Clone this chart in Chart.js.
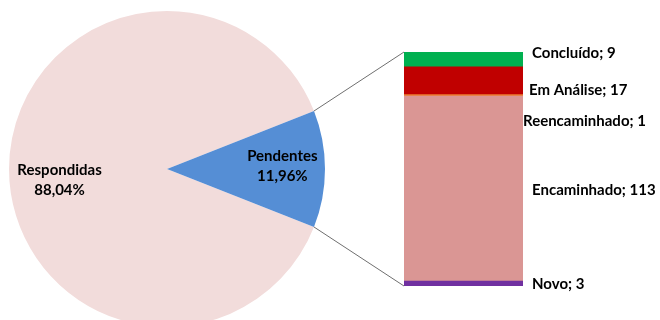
<!DOCTYPE html>
<html>
<head>
<meta charset="utf-8">
<script src="https://cdn.jsdelivr.net/npm/chart.js@4.4.1/dist/chart.umd.min.js"></script>
<style>
  html, body { margin: 0; padding: 0; background: #fff; overflow: hidden; width: 660px; height: 320px; }
  #pieChart { position: absolute; left: 0; top: 0; }
  #barChart { position: absolute; left: 0; top: 0; }
</style>
</head>
<body>
<canvas id="pieChart" width="334" height="338"></canvas>
<canvas id="barChart" width="660" height="320"></canvas>
<script>
// Pie: share of requests (percent)
const pieLabels = ['Respondidas', 'Pendentes'];
const pieValues = [88.04, 11.96];
const pieColors = ['#f2dcdb', '#558ed5'];

// Bar: breakdown of "Pendentes", bottom to top
const barLabels = ['Novo', 'Encaminhado', 'Reencaminhado', 'Em Análise', 'Concluído'];
const barValues = [3, 113, 1, 17, 9];
const barColors = ['#7030a0', '#da9694', '#ed7d31', '#c00000', '#00b050'];

const labelFont = 'bold 15px Lato';

// pie slice labels: "Name" + "xx,xx%"
const pieLabelPlugin = {
  id: 'pieLabels',
  afterDatasetsDraw(chart, args, opts) {
    const ctx = chart.ctx;
    const meta = chart.getDatasetMeta(0);
    ctx.save();
    ctx.font = labelFont;
    ctx.fillStyle = '#000';
    ctx.textAlign = 'center';
    ctx.textBaseline = 'middle';
    meta.data.forEach((arc, i) => {
      const mid = (arc.startAngle + arc.endAngle) / 2;
      const r = arc.outerRadius * opts.ratio[i];
      const x = arc.x + Math.cos(mid) * r;
      const y = arc.y + Math.sin(mid) * r + opts.dy[i];
      ctx.fillText(pieLabels[i], x, y - 10);
      ctx.fillText(pieValues[i].toFixed(2).replace('.', ',') + '%', x, y + 10);
    });
    ctx.restore();
  }
};

const pieChart = new Chart(document.getElementById('pieChart'), {
  type: 'pie',
  data: {
    labels: pieLabels,
    datasets: [{ data: pieValues, backgroundColor: pieColors, borderWidth: 0 }]
  },
  options: {
    responsive: false,
    animation: false,
    events: [],
    radius: 158,
    rotation: 90 + pieValues[1] * 3.6 / 2,
    plugins: {
      legend: { display: false },
      tooltip: { enabled: false },
      pieLabels: { ratio: [0.68, 0.73], dy: [11, -3] }
    }
  },
  plugins: [pieLabelPlugin]
});

// connector lines from the Pendentes slice to the bar + bar labels
const barExtras = {
  id: 'barExtras',
  afterDatasetsDraw(chart, args, opts) {
    const ctx = chart.ctx;
    const first = chart.getDatasetMeta(0).data[0];
    const last = chart.getDatasetMeta(barValues.length - 1).data[0];
    const left = first.x - first.width / 2;
    const right = first.x + first.width / 2;

    const slice = pieChart.getDatasetMeta(0).data[1];
    ctx.save();
    ctx.strokeStyle = '#6f6f6f';
    ctx.lineWidth = 1;
    ctx.beginPath();
    ctx.moveTo(slice.x + Math.cos(slice.startAngle) * slice.outerRadius, slice.y + Math.sin(slice.startAngle) * slice.outerRadius);
    ctx.lineTo(left, last.y);
    ctx.moveTo(slice.x + Math.cos(slice.endAngle) * slice.outerRadius, slice.y + Math.sin(slice.endAngle) * slice.outerRadius);
    ctx.lineTo(left, first.base);
    ctx.stroke();

    ctx.font = labelFont;
    ctx.fillStyle = '#000';
    ctx.textAlign = 'left';
    ctx.textBaseline = 'middle';
    barLabels.forEach((name, i) => {
      const el = chart.getDatasetMeta(i).data[0];
      const y = (el.y + el.base) / 2 + opts.dy[i];
      ctx.fillText(name + '; ' + barValues[i], right + 9 + opts.dx[i], y);
    });
    ctx.restore();
  }
};

new Chart(document.getElementById('barChart'), {
  type: 'bar',
  data: {
    labels: ['Pendentes'],
    datasets: barLabels.map((name, i) => ({
      label: name,
      data: [barValues[i]],
      backgroundColor: barColors[i],
      borderWidth: 0,
      barPercentage: 1,
      categoryPercentage: 1
    }))
  },
  options: {
    responsive: false,
    animation: false,
    events: [],
    layout: { padding: { left: 404, right: 137, top: 52, bottom: 34 } },
    scales: {
      x: { stacked: true, display: false },
      y: { stacked: true, display: false, min: 0, max: barValues.reduce((a, b) => a + b, 0) }
    },
    plugins: {
      legend: { display: false },
      tooltip: { enabled: false },
      barExtras: { dx: [0, 0, -9, -3, 0], dy: [1, 2, 26, 10, -6] }
    }
  },
  plugins: [barExtras]
});
</script>
</body>
</html>
